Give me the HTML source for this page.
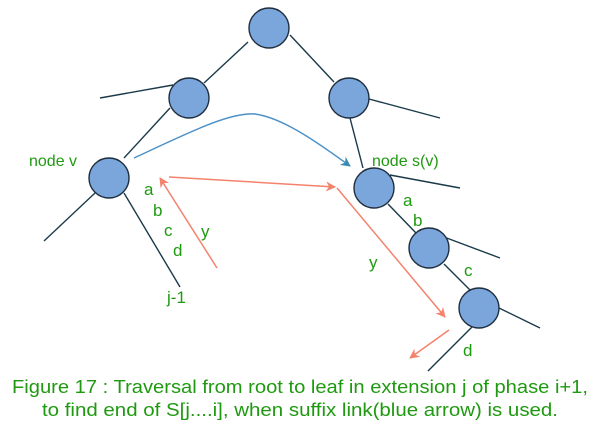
<!DOCTYPE html>
<html><head><meta charset="utf-8"><style>
html,body{margin:0;padding:0;background:#fff;}
svg{display:block;}
text{font-family:"Liberation Sans",sans-serif;fill:#1f9a10;}
</style></head><body>
<svg width="597" height="433" viewBox="0 0 597 433" xmlns="http://www.w3.org/2000/svg">
<defs>
<marker id="ar" markerWidth="10" markerHeight="10" refX="9" refY="5" orient="auto" markerUnits="userSpaceOnUse"><path d="M0,0 L10,5 L0,10 L3,5 Z" fill="#f4826c"/></marker>
<marker id="ab" markerWidth="10" markerHeight="10" refX="9" refY="5" orient="auto" markerUnits="userSpaceOnUse"><path d="M0,0 L10,5 L0,10 L3,5 Z" fill="#3a8bb0"/></marker>
</defs>
<g stroke="#1a3a4a" stroke-width="1.4" fill="none">
<line x1="248" y1="42" x2="204" y2="83"/>
<line x1="290" y1="35" x2="334" y2="82"/>
<line x1="100" y1="98" x2="173" y2="85"/>
<line x1="170" y1="108" x2="124" y2="158"/>
<line x1="95" y1="193" x2="44" y2="241"/>
<line x1="124" y1="193" x2="180" y2="287"/>
<line x1="350" y1="118" x2="363" y2="168"/>
<line x1="369" y1="99" x2="440" y2="118"/>
<line x1="390" y1="175" x2="460" y2="188"/>
<line x1="388" y1="204" x2="416" y2="233"/>
<line x1="444" y1="237" x2="500" y2="258"/>
<line x1="444" y1="264" x2="470" y2="290"/>
<line x1="499" y1="308" x2="540" y2="328"/>
<line x1="472" y1="327" x2="428" y2="371"/>
</g>
<g fill="#7ba6dc" stroke="#1f2f3f" stroke-width="1.4">
<circle cx="269" cy="28" r="20"/>
<circle cx="189" cy="98" r="20"/>
<circle cx="349" cy="98" r="20"/>
<circle cx="109" cy="178" r="20"/>
<circle cx="374" cy="188" r="20"/>
<circle cx="429" cy="248" r="20"/>
<circle cx="479" cy="308" r="20"/>
</g>
<path d="M134,158 C190,132 230,112 255,114 C285,118 325,148 350,166" stroke="#4a90c8" stroke-width="1.4" fill="none" marker-end="url(#ab)"/>
<g stroke="#f4826c" stroke-width="1.5" fill="none">
<line x1="169" y1="177" x2="335" y2="187" marker-end="url(#ar)"/>
<polyline points="337,188 445,317" marker-end="url(#ar)"/>
<line x1="217" y1="268" x2="160" y2="178" marker-end="url(#ar)"/>
<line x1="449" y1="330" x2="410" y2="358" marker-end="url(#ar)"/>
</g>
<g font-size="16">
<text x="29" y="166">node v</text>
<text x="372" y="166">node s(v)</text>
</g>
<g font-size="17">
<text x="144" y="195">a</text>
<text x="153" y="216">b</text>
<text x="164" y="236">c</text>
<text x="173" y="256">d</text>
<text x="201" y="237">y</text>
<text x="167" y="303">j-1</text>
<text x="403" y="206">a</text>
<text x="413" y="226">b</text>
<text x="464" y="276">c</text>
<text x="463" y="356">d</text>
<text x="369" y="268">y</text>
</g>
<g font-size="18">
<text x="12" y="393" textLength="576" lengthAdjust="spacingAndGlyphs">Figure 17 : Traversal from root to leaf in extension j of phase i+1,</text>
<text x="42" y="416" textLength="516" lengthAdjust="spacingAndGlyphs">to find end of S[j....i], when suffix link(blue arrow) is used.</text>
</g>
</svg>
</body></html>
